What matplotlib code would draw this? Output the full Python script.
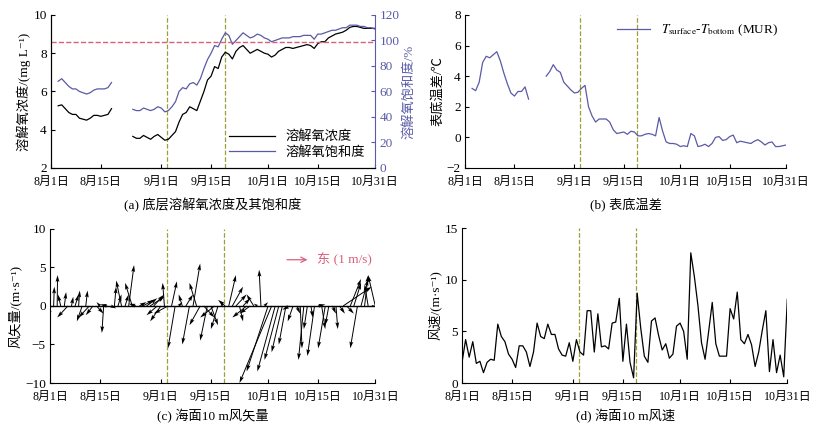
import numpy as np
import matplotlib
matplotlib.use('Agg')
import matplotlib.pyplot as plt

plt.rcParams['font.family'] = ['Liberation Serif', 'Noto Sans CJK SC', 'DejaVu Sans']
plt.rcParams['mathtext.fontset'] = 'stix'
plt.rcParams['font.size'] = 9.5
plt.rcParams['xtick.labelsize'] = 8.6
plt.rcParams['ytick.labelsize'] = 9.5
plt.rcParams['axes.unicode_minus'] = True

# ticks: days since Aug 1
tick_days = [0, 14, 31, 45, 61, 75, 91]
tick_labels = ['8月1日', '8月15日', '9月1日', '9月15日', '10月1日', '10月15日', '10月31日']
event_days = [32.7, 48.8]

# (a) bottom dissolved oxygen, two segments
do_start1 = 2
do1 = [5.25, 5.3, 5.1, 4.9, 4.8, 4.8, 4.6, 4.55, 4.5, 4.6, 4.75, 4.75, 4.7, 4.75, 4.8, 5.1]
sat1 = [68, 70, 67, 64, 62, 62, 60, 59, 58, 59, 61, 62, 62, 62, 63, 67]
do_start2 = 23
do2 = [3.65, 3.55, 3.55, 3.7, 3.6, 3.5, 3.65, 3.75, 3.6, 3.45, 3.5, 3.7, 3.9, 4.4, 4.8, 4.9,
       5.2, 5.1, 5.0, 5.5, 6.0, 6.6, 6.8, 7.3, 7.2, 7.8, 8.05, 7.95, 7.7, 8.1, 8.3, 8.4,
       8.2, 8.0, 8.1, 8.2, 8.1, 8.0, 7.95, 7.8, 7.9, 8.1, 8.2, 8.3, 8.3, 8.25, 8.3, 8.35,
       8.4, 8.45, 8.4, 8.25, 8.5, 8.6, 8.6, 8.8, 8.9, 9.0, 9.05, 9.1, 9.2, 9.35, 9.4, 9.4,
       9.35, 9.3, 9.3, 9.3, 9.3]
sat2 = [46, 45, 45, 47, 46, 45, 46, 48, 47, 44, 45, 48, 52, 60, 63, 62, 66, 67, 65, 70,
        78, 85, 90, 96, 95, 101, 106, 104, 97, 100, 103, 106, 104, 102, 103, 105, 104, 102,
        101, 99, 100, 101, 102, 102, 102, 103, 103, 103, 104, 104, 104, 101, 105, 105, 106,
        107, 108, 108, 109, 110, 110, 112, 112, 112, 111, 111, 110, 110, 109]

# (b) surface - bottom temperature difference
dt_start1 = 2
dt1 = [3.2, 3.05, 3.6, 4.9, 5.3, 5.2, 5.4, 5.6, 5.0, 4.2, 3.5, 2.9, 2.7, 3.0, 3.0, 3.3, 2.5]
dt_start2 = 23
dt2 = [4.0, 4.3, 4.75, 4.4, 4.25, 3.6, 3.35, 3.1, 2.9, 2.95, 3.2, 3.4, 2.0, 1.4, 1.0, 1.2,
       1.2, 1.2, 1.0, 0.5, 0.25, 0.3, 0.35, 0.2, 0.4, 0.35, 0.1, 0.1, 0.2, 0.25, 0.2, 0.1,
       1.3, 0.4, -0.3, -0.4, -0.4, -0.45, -0.6, -0.55, -0.6, 0.25, 0.1, -0.6,
       -0.55, -0.45, -0.6, -0.4, 0.0, 0.05, -0.2, -0.15, 0.05, 0.15, -0.35, -0.25, -0.3,
       -0.35, -0.4, -0.25, -0.15, -0.3, -0.5, -0.35, -0.3, -0.6, -0.6, -0.55, -0.5]

# (c) wind vectors: v (m/s) and horizontal extent u (days)
wind_v = [-1.5, 2.5, 4.0, 1.5, 1.8, -1.5, 1.2, 1.5, 2.0, -2.0, 2.0, -1.5, -1.2, -1.0, 0.5, -3.5,
          0.2, -0.3, 2.5, 1.5, 3.3, 1.5, 5.3, 3.0, 0.3, 0.5, 0.8, 1.0, 1.2, 1.5, -1.2, -2.0,
          3.0, -1.0, 3.2, -5.5, 0.5, 1.5, 1.5, -5.0, 5.5, 3.0, -2.5, -1.5, -4.5, -2.5, -1.5,
          -3.0, 0.5, 0.8, 4.0, 2.5, 1.5, -2.0, 1.0, -1.5, -1.0, 1.5, 0.3, 4.7, 0.5, -8.5,
          -10.0, -8.5, -7.0, -6.0, -5.0, -0.5, -2.0, -1.0, -5.5, -7.0, -3.0, -1.5, -6.5, 0.2,
          -3.0, -5.5, -2.5, -1.0, -3.0, -1.0, 2.5, -1.0, 3.5, 3.0, -5.5, 3.5, 4.0, 2.8, 0.0, 4.0]
wind_u = [-0.3, 0.2, 0.1, -0.8, 0.5, -3, 0.5, 1, 0.3, -1.5, 0.5, -3, -2, 2, -1, -0.5,
          -2, 1.5, 0.5, 1, -1.5, 1, 1.5, -2, -2, 2, 3, 3, 4, 3, -3, -3,
          -0.5, -4, 1.5, -2, 1, -1, 2, -2, 2, -2, -3, 3, -2, 2, -4,
          -2, 0.5, -2, 2, 3, 3, 1, 2, -4, -3, -2, -1, -0.5, 1, -6,
          -9, -5, -4, -3, -2, -2, -1.5, 1, 0.5, -1.5, -1, 0.5, -2, 2,
          1, -2, -1, 1, 0.5, 1.5, 8, 2, 3, 2, -2, 2, 1, -1, 1, -2]

# (d) wind speed
wind_speed = [2.0, 4.2, 2.5, 4.0, 1.9, 2.1, 1.0, 2.0, 2.3, 2.2, 5.7, 4.5, 4.0, 2.8, 2.3, 1.5,
              3.6, 3.6, 3.0, 1.6, 3.0, 5.8, 4.5, 4.3, 5.7, 4.7, 4.7, 3.3, 2.7, 2.6, 3.9, 2.1,
              4.2, 3.0, 2.7, 7.0, 7.0, 3.0, 6.7, 3.5, 3.6, 3.3, 5.8, 5.9, 8.2, 2.1, 5.7, 2.0,
              0.5, 8.7, 5.3, 2.6, 2.0, 6.0, 6.3, 4.6, 3.2, 3.8, 2.4, 2.8, 5.5, 5.8, 5.0, 2.3,
              12.6, 10.3, 7.5, 3.9, 2.3, 5.0, 7.8, 3.8, 2.6, 2.6, 2.6, 7.2, 6.2, 8.8, 4.2, 3.8,
              4.7, 3.7, 1.6, 3.0, 5.1, 7.0, 1.1, 4.2, 1.0, 2.7, 0.6, 8.1]

purple = '#5a5aa6'
olive = '#9ca03a'
red = '#d9607a'

fig = plt.figure(figsize=(8.34, 4.34), dpi=100)
ax_a = fig.add_axes([0.0612, 0.613, 0.388, 0.3525])
ax_b = fig.add_axes([0.5576, 0.613, 0.385, 0.3525])
ax_c = fig.add_axes([0.060, 0.1175, 0.39, 0.355])
ax_d = fig.add_axes([0.554, 0.1175, 0.39, 0.357])


def base(ax):
    ax.set_xlim(0, 91)
    ax.set_xticks(tick_days)
    ax.set_xticklabels(tick_labels)
    ax.spines['top'].set_visible(False)
    ax.spines['right'].set_visible(False)
    ax.tick_params(direction='in', length=3, pad=3)
    ax.tick_params(axis='x', pad=6)
    for d in event_days:
        ax.axvline(d, color=olive, ls='--', lw=0.9)


# (a)
base(ax_a)
ax_a.plot(np.arange(len(do1)) + do_start1, do1, color='black', lw=0.9)
ax_a.plot(np.arange(len(do2)) + do_start2, do2, color='black', lw=0.9, label='溶解氧浓度')
ax_a.set_ylim(2, 10)
ax_a.set_yticks([2, 4, 6, 8, 10])
ax_a.set_ylabel('溶解氧浓度/(mg L⁻¹)', labelpad=2)
ax2 = ax_a.twinx()
ax2.set_xlim(0, 91)
ax2.plot(np.arange(len(sat1)) + do_start1, sat1, color=purple, lw=0.9)
ax2.plot(np.arange(len(sat2)) + do_start2, sat2, color=purple, lw=0.9, label='溶解氧饱和度')
ax2.axhline(99, color=red, ls='--', lw=1)
ax2.set_ylim(0, 120)
ax2.set_yticks(range(0, 121, 20))
ax2.spines['top'].set_visible(False)
ax2.spines['right'].set_color(purple)
ax2.tick_params(axis='y', colors=purple, direction='in', length=3)
ax2.set_ylabel('溶解氧饱和度/%', color=purple, labelpad=2)
h1, l1 = ax_a.get_legend_handles_labels()
h2, l2 = ax2.get_legend_handles_labels()
ax2.legend(h1 + h2, l1 + l2, loc='lower right', frameon=False, handlelength=3.5,
           borderaxespad=0.3, labelspacing=0.2)

# (b)
base(ax_b)
ax_b.plot(np.arange(len(dt1)) + dt_start1, dt1, color=purple, lw=0.9)
ax_b.plot(np.arange(len(dt2)) + dt_start2, dt2, color=purple, lw=0.9,
          label='$T_{\\rm surface}$-$T_{\\rm bottom}$ (MUR)')
ax_b.set_ylim(-2, 8)
ax_b.set_yticks([-2, 0, 2, 4, 6, 8])
ax_b.set_ylabel('表底温差/℃', labelpad=2)
ax_b.legend(loc='upper right', frameon=False, handlelength=2.5, borderaxespad=0.2)

# (c)
base(ax_c)
days = np.arange(len(wind_v))
ax_c.axhline(0, color='black', lw=1)
ax_c.quiver(days, np.zeros(len(days)), wind_u, wind_v, angles='xy', scale_units='xy',
            scale=1, width=0.003, headwidth=4, headlength=7, headaxislength=6, color='black')
ax_c.set_ylim(-10, 10)
ax_c.set_yticks([-10, -5, 0, 5, 10])
ax_c.set_ylabel('风矢量/(m·s⁻¹)', labelpad=2)
ax_c.annotate('', xy=(0.8, 0.8), xytext=(0.72, 0.8), xycoords='axes fraction',
              arrowprops=dict(arrowstyle='->', color=red, lw=0.9))
ax_c.text(0.82, 0.8, '东 (1 m/s)', color=red, transform=ax_c.transAxes, va='center')

# (d)
base(ax_d)
ax_d.plot(np.arange(len(wind_speed)), wind_speed, color='black', lw=0.9)
ax_d.set_ylim(0, 15)
ax_d.set_yticks([0, 5, 10, 15])
ax_d.set_ylabel('风速/(m·s⁻¹)', labelpad=2)

fig.text(0.255, 0.527, '(a) 底层溶解氧浓度及其饱和度', ha='center', va='center')
fig.text(0.75, 0.527, '(b) 表底温差', ha='center', va='center')
fig.text(0.255, 0.04, '(c) 海面10 m风矢量', ha='center', va='center')
fig.text(0.75, 0.04, '(d) 海面10 m风速', ha='center', va='center')

fig.savefig('out.png', dpi=100)
